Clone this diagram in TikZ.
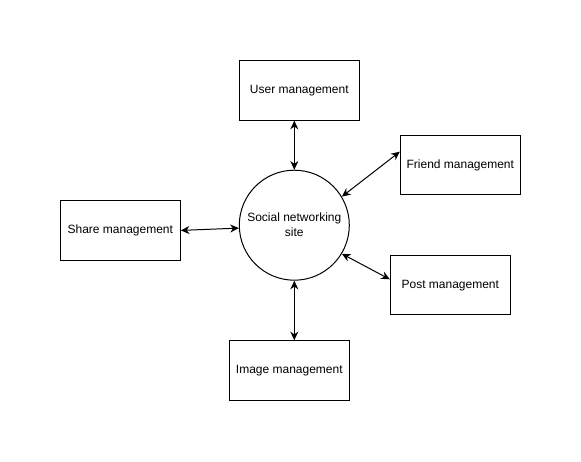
\documentclass[tikz,border=0pt]{standalone}
\usepackage{fontspec}
\setmainfont{Liberation Sans}
\usetikzlibrary{arrows.meta}
\begin{document}
\begin{tikzpicture}[x=0.75pt,y=-0.75pt,
  box/.style={draw,line width=0.75pt,minimum width=90pt,minimum height=44.5pt,inner sep=0pt,font=\fontsize{9pt}{11.25pt}\selectfont},
  hub/.style={draw,circle,line width=0.75pt,minimum size=82.5pt,inner sep=0pt,align=center,font=\fontsize{9pt}{11.25pt}\selectfont},
  link/.style={line width=0.75pt,{Stealth[length=6.5pt,width=6pt]}-{Stealth[length=6.5pt,width=6pt]}}]
\useasboundingbox (0,0) rectangle (581,461);
\node[hub] (c) at (294.3,225.2) {Social networking\\site};
\node[box] (user) at (299.3,90.5) {User management};
\node[box] (friend) at (460.3,165.3) {Friend management};
\node[box] (share) at (120.3,230.4) {Share management};
\node[box] (post) at (450.3,285.3) {Post management};
\node[box] (image) at (289.3,370.4) {Image management};
\draw[link] (user.south -| c.north) -- (c.north);
\draw[link] (c.31) -- ([yshift=10.2pt]friend.west);
\draw[link] (share.east) -- (c.183);
\draw[link] (c.-31) -- ([yshift=4.5pt]post.west);
\draw[link] (c.south) -- (image.north -| c.south);
\end{tikzpicture}
\end{document}
